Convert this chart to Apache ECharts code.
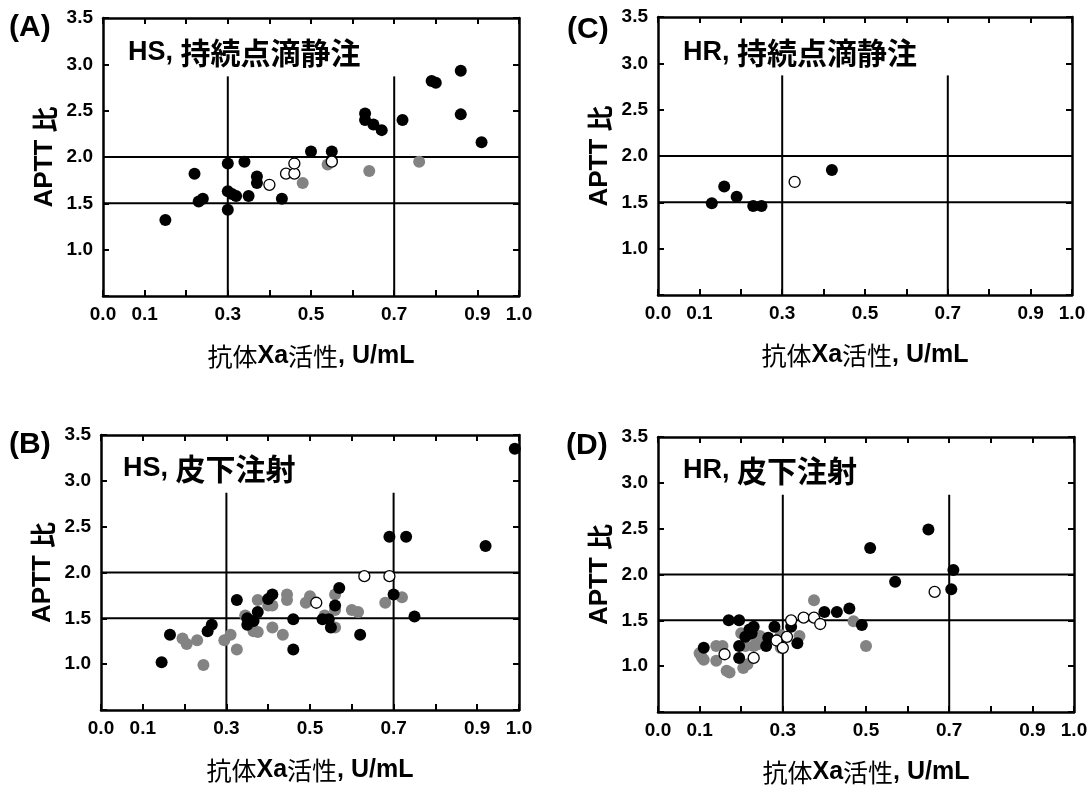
<!DOCTYPE html>
<html><head><meta charset="utf-8">
<script src="https://cdn.jsdelivr.net/npm/echarts@6/dist/echarts.min.js"></script>
<style>html,body{margin:0;padding:0;background:#fff}#c{width:1091px;height:786px}</style>
</head><body><div id="c"></div>
<script>
// ---- data ----
const xTickLabels = ['0.0','0.1','0.3','0.5','0.7','0.9','1.0'];
const yTickLabels = ['1.0','1.5','2.0','2.5','3.0','3.5'];
const hLines = [1.5, 2.0];
const vLines = [0.3, 0.7];
const vLineTop = 2.87;
const panelLetters = ['(A)','(B)','(C)','(D)'];
const panelGroups = ['HS','HS','HR','HR'];
const panelRoutes = ['持続点滴静注','皮下注射','持続点滴静注','皮下注射'];
const xAxisName = ['抗体','Xa','活性',', U/mL'];
const yAxisName = ['APTT ','比'];

const A_black = [[0.15,1.32],[0.22,1.82],[0.23,1.52],[0.24,1.55],[0.30,1.93],[0.30,1.63],[0.31,1.60],[0.32,1.58],[0.30,1.43],[0.34,1.95],[0.35,1.58],[0.37,1.79],[0.37,1.72],[0.43,1.55],[0.50,2.06],[0.55,2.06],[0.55,1.96],[0.63,2.47],[0.63,2.40],[0.65,2.35],[0.67,2.29],[0.72,2.40],[0.79,2.82],[0.80,2.80],[0.86,2.93],[0.86,2.46],[0.91,2.16]];
const A_gray = [[0.48,1.72],[0.54,1.92],[0.64,1.85],[0.76,1.95]];
const A_open = [[0.40,1.70],[0.44,1.82],[0.46,1.82],[0.46,1.93],[0.55,1.95]];

const B_black = [[0.145,1.02],[0.165,1.32],[0.255,1.36],[0.265,1.43],[0.325,1.70],[0.35,1.50],[0.35,1.43],[0.365,1.47],[0.375,1.57],[0.40,1.71],[0.41,1.76],[0.46,1.49],[0.46,1.16],[0.53,1.49],[0.545,1.49],[0.55,1.40],[0.56,1.64],[0.57,1.83],[0.62,1.32],[0.69,2.39],[0.70,1.76],[0.73,2.39],[0.75,1.52],[0.92,2.29],[0.99,3.35]];
const B_gray = [[0.195,1.28],[0.205,1.22],[0.23,1.26],[0.245,0.99],[0.295,1.26],[0.31,1.32],[0.325,1.16],[0.345,1.53],[0.365,1.36],[0.375,1.35],[0.375,1.70],[0.40,1.64],[0.41,1.64],[0.41,1.40],[0.435,1.32],[0.445,1.76],[0.445,1.70],[0.49,1.67],[0.50,1.74],[0.535,1.53],[0.56,1.76],[0.56,1.59],[0.56,1.40],[0.60,1.59],[0.615,1.57],[0.68,1.67],[0.72,1.73]];
const B_open = [[0.515,1.67],[0.63,1.96],[0.69,1.96]];

const C_black = [[0.13,1.49],[0.16,1.67],[0.19,1.56],[0.23,1.46],[0.25,1.46],[0.42,1.85]];
const C_gray = [];
const C_open = [[0.33,1.72]];

const D_black = [[0.11,1.20],[0.17,1.50],[0.195,1.50],[0.195,1.22],[0.195,1.09],[0.21,1.32],[0.22,1.40],[0.23,1.43],[0.225,1.36],[0.26,1.22],[0.265,1.31],[0.28,1.43],[0.32,1.43],[0.335,1.25],[0.40,1.59],[0.43,1.59],[0.46,1.63],[0.49,1.45],[0.51,2.29],[0.57,1.92],[0.65,2.49],[0.705,1.84],[0.71,2.05]];
const D_gray = [[0.10,1.14],[0.11,1.07],[0.105,1.10],[0.14,1.22],[0.155,1.22],[0.14,1.06],[0.165,0.95],[0.172,0.93],[0.205,0.98],[0.215,1.02],[0.21,1.22],[0.23,1.22],[0.24,1.24],[0.235,1.31],[0.20,1.36],[0.245,1.33],[0.25,1.28],[0.295,1.34],[0.295,1.20],[0.34,1.33],[0.375,1.72],[0.47,1.49],[0.50,1.22]];
const D_open = [[0.16,1.13],[0.23,1.09],[0.285,1.28],[0.30,1.20],[0.31,1.32],[0.32,1.50],[0.35,1.53],[0.375,1.53],[0.39,1.46],[0.665,1.81]];

const panelData = [
  {black:A_black, gray:A_gray, open:A_open},
  {black:B_black, gray:B_gray, open:B_open},
  {black:C_black, gray:C_gray, open:C_open},
  {black:D_black, gray:D_gray, open:D_open}
];

// ---- layout / style ----
const X_MIN = 0, X_MAX = 1, Y_MIN = 0.5, Y_MAX = 3.5;
const grids = [
  {left:103, top:18, width:416, height:278},
  {left:101, top:435, width:418, height:275},
  {left:658, top:17, width:414, height:278},
  {left:658, top:437, width:416, height:276}
];
const letterPos = [{left:9, top:13},{left:9, top:430},{left:567, top:15},{left:566, top:431}];
const titlePos = [{left:128, top:38},{left:123, top:454},{left:683, top:38},{left:683, top:456}];

const LAT = '"Liberation Sans", Arial, sans-serif';
const CJK = '"Noto Sans CJK JP", sans-serif';
const INK = '#000';
const GRAY = '#838383';
const SYM = 12;

const xAxes = [], yAxes = [], series = [], titles = [];
grids.forEach((g, i) => {
  const common = {gridIndex:i, min:X_MIN, max:X_MAX, interval:0.1,
    axisLine:{show:true, onZero:false, lineStyle:{color:INK, width:2.5}},
    axisTick:{show:true, inside:true, length:6, lineStyle:{color:INK, width:2}},
    splitLine:{show:false}};
  xAxes.push(Object.assign({}, common, {
    type:'value', position:'bottom',
    name: xAxisName.map((t,k)=> (k%2===0 ? '{c|'+t+'}' : '{b|'+t+'}')).join(''),
    nameLocation:'middle', nameGap:48,
    nameTextStyle:{rich:{
      c:{fontFamily:CJK, fontSize:25, fontWeight:'normal', color:INK},
      b:{fontFamily:LAT, fontSize:25, fontWeight:'bold', color:INK}}},
    axisLabel:{show:true, margin:9, color:INK, fontFamily:LAT, fontWeight:'bold', fontSize:19,
      formatter: v => { const s = Number(v).toFixed(1); return xTickLabels.indexOf(s) >= 0 ? s : ''; }}
  }));
  xAxes.push(Object.assign({}, common, {type:'value', position:'top', axisLabel:{show:false}}));
  const ycommon = {gridIndex:i, min:Y_MIN, max:Y_MAX, interval:0.5,
    axisLine:{show:true, onZero:false, lineStyle:{color:INK, width:2.5}},
    axisTick:{show:true, inside:true, length:6, lineStyle:{color:INK, width:2}},
    splitLine:{show:false}};
  yAxes.push(Object.assign({}, ycommon, {
    type:'value', position:'left',
    name:'{b|'+yAxisName[0]+'}{c|'+yAxisName[1]+'}', nameLocation:'middle', nameGap:45, nameRotate:90,
    nameTextStyle:{rich:{
      b:{fontFamily:LAT, fontSize:26, fontWeight:'bold', color:INK},
      c:{fontFamily:CJK, fontSize:26, fontWeight:'bold', color:INK}}},
    axisLabel:{show:true, margin:10, color:INK, fontFamily:LAT, fontWeight:'bold', fontSize:19,
      formatter: v => { const s = Number(v).toFixed(1); return yTickLabels.indexOf(s) >= 0 ? s : ''; }}
  }));
  yAxes.push(Object.assign({}, ycommon, {type:'value', position:'right', axisLabel:{show:false}}));

  const xi = i*2, yi = i*2;
  hLines.forEach(h => series.push({type:'line', xAxisIndex:xi, yAxisIndex:yi, symbol:'none', silent:true, z:1,
    lineStyle:{color:INK, width:2}, data:[[X_MIN,h],[X_MAX,h]]}));
  vLines.forEach(v => series.push({type:'line', xAxisIndex:xi, yAxisIndex:yi, symbol:'none', silent:true, z:1,
    lineStyle:{color:INK, width:2}, data:[[v,Y_MIN],[v,vLineTop]]}));
  const d = panelData[i];
  series.push({type:'scatter', xAxisIndex:xi, yAxisIndex:yi, symbolSize:SYM, z:3,
    itemStyle:{color:GRAY, opacity:1}, data:d.gray});
  series.push({type:'scatter', xAxisIndex:xi, yAxisIndex:yi, symbolSize:SYM, z:4,
    itemStyle:{color:'#000', opacity:1}, data:d.black});
  series.push({type:'scatter', xAxisIndex:xi, yAxisIndex:yi, symbolSize:SYM-1, z:5,
    itemStyle:{color:'#fff', borderColor:'#000', borderWidth:1.3, opacity:1}, data:d.open});

  titles.push({text:panelLetters[i], left:letterPos[i].left, top:letterPos[i].top, padding:0,
    textStyle:{fontFamily:LAT, fontWeight:'bold', fontSize:30, color:INK}});
  titles.push({text:'{b|'+panelGroups[i]+', }{c|'+panelRoutes[i]+'}', left:titlePos[i].left, top:titlePos[i].top, padding:0,
    textStyle:{rich:{
      b:{fontFamily:LAT, fontWeight:'bold', fontSize:27, color:INK},
      c:{fontFamily:CJK, fontWeight:'bold', fontSize:30, color:INK}}}});
});

const chart = echarts.init(document.getElementById('c'), null, {renderer:'canvas'});
chart.setOption({
  backgroundColor:'#fff',
  animation:false,
  title:titles,
  grid:grids.map(g => Object.assign({containLabel:false}, g)),
  xAxis:xAxes, yAxis:yAxes, series:series
});
</script></body></html>
